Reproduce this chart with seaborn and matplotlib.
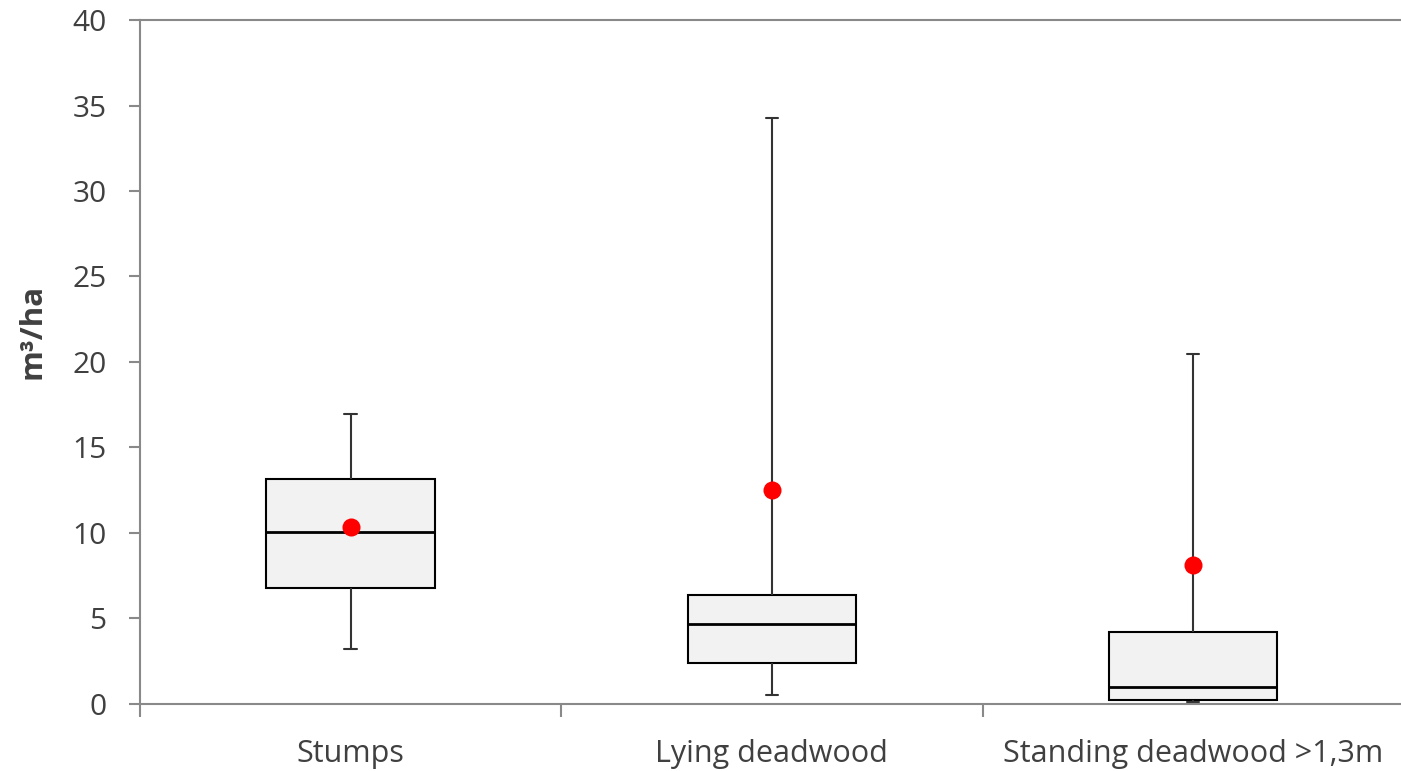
import pandas as pd
import seaborn as sns
import matplotlib.pyplot as plt
from matplotlib.ticker import FixedLocator

# box statistics (m3/ha)
categories = ["Stumps", "Lying deadwood", "Standing deadwood >1,3m"]
whisker_low = [3.2, 0.5, 0.1]
q1 = [6.8, 2.4, 0.25]
median = [10.05, 4.7, 1.0]
q3 = [13.15, 6.4, 4.2]
whisker_high = [16.95, 34.25, 20.45]
mean = [10.35, 12.5, 8.1]

# five points per category -> quartiles come out exact with whis=(0, 100)
rows = []
for i, cat in enumerate(categories):
    for v in (whisker_low[i], q1[i], median[i], q3[i], whisker_high[i]):
        rows.append({"category": cat, "value": v})
df = pd.DataFrame(rows)

sns.set_style("white")
plt.rcParams["font.family"] = ["Open Sans", "DejaVu Sans"]

grey = "#898989"
text_col = "#404040"

fig, ax = plt.subplots(figsize=(14.01, 7.71), dpi=100)
fig.subplots_adjust(left=0.0999, right=1.002, top=0.974, bottom=0.087)

sns.boxplot(data=df, x="category", y="value", order=categories,
            whis=(0, 100), width=0.4, color="#f2f2f2", saturation=1,
            linecolor="black", linewidth=1.5, showfliers=False,
            whiskerprops=dict(color="#333333"), capprops=dict(color="#333333"),
            medianprops=dict(color="black", linewidth=2),
            capwidths=0.03, ax=ax)

sns.stripplot(x=categories, y=mean, order=categories, color="red",
              size=13, jitter=False, linewidth=0, zorder=5, ax=ax)

ax.set_xlim(-0.5, 2.5)
ax.set_ylim(0, 40)
ax.set_yticks(range(0, 41, 5))
ax.xaxis.set_minor_locator(FixedLocator([-0.5, 0.5, 1.5, 2.5]))

ax.set_xlabel("")
ax.set_ylabel("m³/ha", fontsize=22.5, fontweight="bold", color=text_col)
ax.yaxis.set_label_coords(-0.073, 0.545)

for side in ("left", "bottom", "top"):
    ax.spines[side].set_visible(True)
    ax.spines[side].set_color(grey)
    ax.spines[side].set_linewidth(1.5)
ax.spines["right"].set_visible(False)

ax.tick_params(axis="y", which="major", direction="out", length=8, width=1.5,
               color=grey, labelsize=21.5, labelcolor=text_col, pad=16, left=True)
ax.tick_params(axis="x", which="major", length=0, labelsize=22,
               labelcolor=text_col, pad=25)
ax.tick_params(axis="x", which="minor", direction="out", length=9, width=1.5,
               color=grey, bottom=True)

fig.savefig("out.png", dpi=100)
